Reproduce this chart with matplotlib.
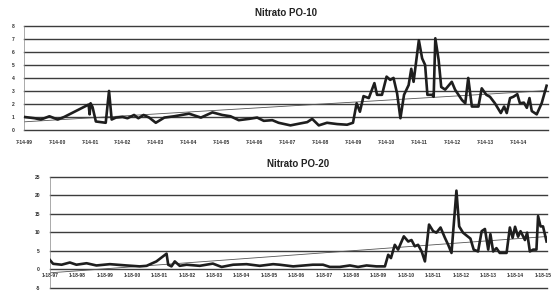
import numpy as np
import matplotlib
matplotlib.use("Agg")
import matplotlib.pyplot as plt

plt.rcParams['font.family'] = ['Liberation Sans', 'DejaVu Sans']

# Nitrato PO-10 (x = years after 7-14-99)
po10_x = [0.0, 0.32, 0.51, 0.77, 1.02, 1.22, 1.96, 1.99, 2.02, 2.08, 2.18, 2.33, 2.48, 2.58,
          2.66, 2.79, 2.99, 3.14, 3.34, 3.47, 3.63, 3.8, 4.0, 4.26, 4.56, 5.01, 5.37, 5.72,
          6.02, 6.27, 6.52, 6.83, 7.08, 7.28, 7.54, 7.73, 8.09, 8.39, 8.6, 8.75, 8.95, 9.2,
          9.51, 9.81, 9.99, 10.1, 10.2, 10.31, 10.47, 10.64, 10.72, 10.87, 11.01, 11.12,
          11.22, 11.33, 11.43, 11.54, 11.68, 11.76, 11.83, 11.99, 12.09, 12.18, 12.25,
          12.39, 12.44, 12.49, 12.59, 12.67, 12.79, 12.99, 13.09, 13.3, 13.4, 13.49, 13.6,
          13.8, 13.9, 14.04, 14.15, 14.3, 14.48, 14.58, 14.66, 14.76, 14.86, 14.98, 15.06,
          15.18, 15.27, 15.35, 15.42, 15.57, 15.72, 15.87]
po10_y = [1.0, 0.9, 0.8, 1.05, 0.8, 1.0, 1.95, 1.2, 2.05, 1.75, 0.65, 0.6, 0.55, 3.0,
          0.8, 0.95, 1.0, 0.9, 1.15, 0.9, 1.15, 0.95, 0.55, 0.95, 1.05, 1.25, 0.95, 1.35,
          1.15, 1.05, 0.75, 0.85, 0.95, 0.7, 0.75, 0.55, 0.35, 0.5, 0.6, 0.85, 0.35, 0.55,
          0.45, 0.4, 0.55, 2.05, 1.4, 2.6, 2.45, 3.6, 2.7, 2.7, 4.1, 3.85,
          4.0, 2.8, 0.9, 2.7, 3.45, 4.7, 3.7, 6.9, 5.5, 5.0, 2.7,
          2.7, 2.55, 7.05, 5.4, 3.3, 3.1, 3.7, 3.1, 2.3, 2.05, 4.0, 1.8,
          1.8, 3.2, 2.7, 2.55, 2.05, 1.3, 1.8, 1.3, 2.45, 2.55, 2.75, 2.05,
          2.1, 1.7, 2.45, 1.45, 1.2, 2.05, 3.4]
po10_labels = ['7-14-99', '7-14-00', '7-14-01', '7-14-02', '7-14-03', '7-14-04', '7-14-05',
               '7-14-06', '7-14-07', '7-14-08', '7-14-09', '7-14-10', '7-14-11', '7-14-12',
               '7-14-13', '7-14-14']
po10_yticks = [0, 1, 2, 3, 4, 5, 6, 7, 8]

# Nitrato PO-20 (x = years after 1-18-97)
po20_x = [0.0, 0.12, 0.43, 0.73, 0.97, 1.34, 1.7, 2.19, 2.8, 3.28, 3.53, 3.89, 4.26, 4.32,
          4.44, 4.56, 4.74, 4.99, 5.47, 5.95, 6.27, 6.69, 7.18, 7.66, 8.15, 8.39, 8.88,
          9.6, 9.97, 10.22, 10.58, 10.95, 11.25, 11.56, 11.92, 12.23, 12.35, 12.45, 12.59,
          12.71, 12.92, 13.08, 13.2, 13.32, 13.44, 13.57, 13.69, 13.84, 13.99, 14.11,
          14.26, 14.42, 14.54, 14.66, 14.84, 14.94, 15.08, 15.23, 15.35, 15.47, 15.63,
          15.76, 15.88, 16.0, 16.08, 16.18, 16.3, 16.42, 16.67, 16.79, 16.89, 16.98,
          17.09, 17.18, 17.34, 17.42, 17.52, 17.64, 17.76, 17.82, 17.91, 18.0, 18.13]
po20_y = [2.5, 1.45, 1.2, 1.8, 1.2, 1.6, 1.0, 1.35, 1.0, 0.75, 0.9, 2.1, 4.2, 1.2,
          0.75, 2.1, 0.9, 1.2, 0.9, 1.5, 0.6, 1.2, 1.35, 0.9, 1.35, 1.2, 0.75,
          1.2, 1.2, 0.6, 0.6, 1.0, 0.6, 1.0, 0.75, 0.75, 3.9, 3.0, 6.6,
          5.3, 8.9, 7.5, 7.9, 6.2, 6.6, 4.8, 2.1, 12.1, 10.3, 9.9,
          11.3, 8.5, 6.6, 4.4, 21.3, 11.6, 9.9, 9.0, 8.3, 5.3, 4.8,
          10.3, 10.9, 5.3, 9.5, 4.8, 5.7, 4.4, 4.4, 11.3, 8.5, 11.5,
          8.8, 10.3, 7.9, 9.9, 4.8, 5.3, 5.3, 14.4, 11.6, 11.6, 7.5]
po20_labels = ['1-18-97', '1-18-98', '1-18-99', '1-18-00', '1-18-01', '1-18-02', '1-18-03',
               '1-18-04', '1-18-05', '1-18-06', '1-18-07', '1-18-08', '1-18-09', '1-18-10',
               '1-18-11', '1-18-12', '1-18-13', '1-18-14', '1-18-15']
po20_yticks = [-5, 0, 5, 10, 15, 20, 25]

fig = plt.figure(figsize=(5.6, 2.98), dpi=100)
ax1 = fig.add_axes([0.043, 0.564, 0.936, 0.349])
ax2 = fig.add_axes([0.089, 0.035, 0.888, 0.371])

grid_c = '#3c3c3c'
line_c = '#1e1e1e'
tick_kw = dict(fontsize=3.6, fontweight='bold', color='#333333')


def draw(ax, x, y, labels, yticks, xmax, title, xaxis_at=None, xpad=7):
    x = np.array(x)
    y = np.array(y)
    for s in ['top', 'right', 'bottom']:
        ax.spines[s].set_visible(False)
    ax.spines['left'].set_color('#888888')
    ax.spines['left'].set_linewidth(0.5)
    ax.set_xlim(0, xmax)
    ax.set_ylim(yticks[0], yticks[-1])
    if xaxis_at is not None:
        ax.spines['bottom'].set_position(('data', xaxis_at))
    # horizontal grid lines
    for t in yticks:
        ax.axhline(t, color=grid_c, lw=1.0, zorder=1, clip_on=False)
    ax.plot(x, y, color=line_c, lw=1.9, solid_joinstyle='round', zorder=3)
    k, b = np.polyfit(x, y, 1)
    xs = np.array([x[0], x[-1]])
    ax.plot(xs, k * xs + b, color='#555555', lw=0.6, zorder=2)
    ax.set_yticks(yticks)
    ax.set_yticklabels([str(t) for t in yticks], **tick_kw)
    ax.set_xticks(range(len(labels)))
    ax.set_xticklabels(labels, **tick_kw)
    ax.tick_params(length=0)
    ax.tick_params(axis='x', pad=xpad)
    ax.tick_params(axis='y', pad=7)
    ax.set_title(title, fontsize=7, fontweight='bold', color='#222222', pad=7)


draw(ax1, po10_x, po10_y, po10_labels, po10_yticks, 15.92, 'Nitrato PO-10')
draw(ax2, po20_x, po20_y, po20_labels, po20_yticks, 18.15, 'Nitrato PO-20',
     xaxis_at=0, xpad=2.5)

fig.savefig('out.png', dpi=100)
